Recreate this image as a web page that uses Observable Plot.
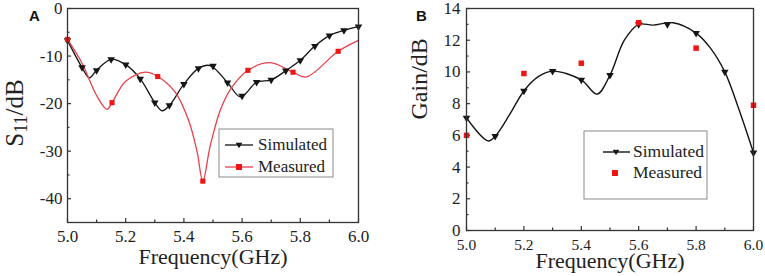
<!DOCTYPE html>
<html><head><meta charset="utf-8">
<script src="https://cdn.jsdelivr.net/npm/d3@7"></script>
<script src="https://cdn.jsdelivr.net/npm/@observablehq/plot@0.6"></script>
<style>
body{margin:0;background:#fff;}
#wrap{position:relative;width:765px;height:276px;overflow:hidden;background:#fff;}
#a{position:absolute;left:0;top:0;}
#b{position:absolute;left:385px;top:0;}
#wrap g[aria-label$="tick label"], #wrap g[aria-label$="tick label"] text{font-family:'Liberation Serif','Times New Roman',serif !important;}
</style></head><body><div id="wrap"><div id="a"></div><div id="b"></div></div>
<script>
// ---------- Panel A: S11 ----------
const simFreqA = [5.00,5.05,5.10,5.15,5.20,5.25,5.30,5.35,5.40,5.45,5.50,5.55,5.60,5.65,5.70,5.75,5.80,5.85,5.90,5.95,6.00];
const simS11   = [-6.7,-12.4,-13.0,-10.7,-11.8,-14.8,-19.8,-20.4,-15.9,-12.6,-12.1,-15.6,-18.4,-15.5,-15.0,-13.1,-10.9,-7.9,-5.7,-4.6,-3.8];
// simulated curve (markers plus read-off extrema)
const simCurveFreqA = [5.00,5.05,5.075,5.10,5.15,5.20,5.25,5.30,5.325,5.35,5.40,5.45,5.49,5.55,5.595,5.65,5.70,5.75,5.80,5.85,5.90,5.95,6.00];
const simCurveS11   = [-6.7,-12.4,-14.6,-13.0,-10.7,-11.8,-14.8,-19.8,-21.5,-20.4,-15.9,-12.6,-12.0,-15.6,-18.6,-15.5,-15.0,-13.1,-10.9,-7.9,-5.7,-4.6,-3.8];
const measFreqA = [5.00,5.153,5.31,5.465,5.62,5.775,5.93];
const measS11   = [-6.5,-19.8,-14.3,-36.3,-13.0,-13.4,-9.0];
const measCurveFreqA = [5.00,5.05,5.10,5.136,5.153,5.20,5.267,5.31,5.37,5.416,5.445,5.465,5.49,5.525,5.56,5.62,5.696,5.775,5.82,5.93,6.00];
const measCurveS11   = [-6.5,-11.5,-18.3,-21.2,-19.8,-15.3,-13.4,-14.3,-17.6,-23.5,-30.0,-36.3,-29.0,-21.4,-17.0,-13.0,-11.4,-13.4,-14.4,-9.0,-6.7];
const xMajor = [5.0,5.2,5.4,5.6,5.8,6.0];
const xMinor = [5.1,5.3,5.5,5.7,5.9];
const yMajorA = [0,-10,-20,-30,-40];
const yMinorA = [-5,-15,-25,-35];

// ---------- Panel B: Gain ----------
const simFreqB = [5.0,5.1,5.2,5.3,5.4,5.5,5.6,5.7,5.8,5.9,6.0];
const simGain  = [7.1,5.95,8.8,10.05,9.5,9.8,13.0,13.0,12.45,10.0,4.9];
const simCurveFreqB = [5.0,5.075,5.1,5.15,5.2,5.25,5.3,5.4,5.455,5.5,5.55,5.6,5.65,5.72,5.8,5.85,5.9,5.95,6.0];
const simCurveGain  = [7.1,5.65,5.95,7.3,8.8,9.7,10.05,9.5,8.6,9.8,12.0,13.0,12.95,13.1,12.45,11.5,10.0,7.6,4.9];
const measFreqB = [5.0,5.2,5.4,5.6,5.8,6.0];
const measGain  = [6.0,9.9,10.55,13.1,11.5,7.9];
const yMajorB = [0,2,4,6,8,10,12,14];
const yMinorB = [1,3,5,7,9,11,13];

const zipXY = (xs, ys) => xs.map((x, i) => ({x, y: ys[i]}));
const FONT = "'Liberation Serif','Times New Roman',serif";
const AXIS = "#333";
const BLACK = "#151515";
const REDLINE = "#e8404c";
const REDPT = "#f01414";

function panel(o) {
  const fw = o.width - o.ml - o.mr, fh = o.height - o.mt - o.mb;
  return Plot.plot({
    width: o.width, height: o.height,
    marginLeft: o.ml, marginRight: o.mr, marginTop: o.mt, marginBottom: o.mb,
    x: {domain: [5, 6]}, y: {domain: o.ydomain},
    style: {fontFamily: FONT, background: "white", color: "#222", overflow: "visible"},
    marks: [
      Plot.tickX(xMajor, {x: d => d, insetTop: fh - 4, stroke: AXIS, strokeWidth: 1.2}),
      Plot.tickX(xMinor, {x: d => d, insetTop: fh - 2.5, stroke: AXIS, strokeWidth: 1.2}),
      Plot.tickY(o.yMajor, {y: d => d, insetRight: fw - 4, stroke: AXIS, strokeWidth: 1.2}),
      Plot.tickY(o.yMinor, {y: d => d, insetRight: fw - 2.5, stroke: AXIS, strokeWidth: 1.2}),
      Plot.axisX({ticks: xMajor, tickSize: 0, tickPadding: o.xPad, tickFormat: d3.format(".1f"), fontSize: o.xTickFont, fontFamily: FONT, label: null, fill: "#222"}),
      Plot.axisY({ticks: o.yMajor, tickSize: 0, tickPadding: o.yPad, tickFormat: d => String(d), fontSize: o.yTickFont, fontFamily: FONT, label: null, fill: "#222"}),
      ...o.marks,
      Plot.frame({stroke: AXIS, strokeWidth: 1.3}),
      Plot.text(["Frequency(GHz)"], {frameAnchor: "bottom", lineAnchor: "middle", dy: o.xLabelDy, fontSize: 22, fontFamily: FONT, fill: "#222"}),
      ...(o.extra || [])
    ]
  });
}

const svgA = panel({
  width: 380, height: 276, ml: 67, mr: 22, mt: 8, mb: 54,
  ydomain: [-45, 0], yMajor: yMajorA, yMinor: yMinorA,
  xPad: 7, yPad: 5, xTickFont: 17, yTickFont: 17, xLabelDy: 34,
  marks: [
    Plot.line(zipXY(simCurveFreqA, simCurveS11), {x: "x", y: "y", curve: "catmull-rom", stroke: BLACK, strokeWidth: 1.3}),
    Plot.line(zipXY(measCurveFreqA, measCurveS11), {x: "x", y: "y", curve: "catmull-rom", stroke: REDLINE, strokeWidth: 1.3}),
    Plot.dot(zipXY(simFreqA, simS11), {x: "x", y: "y", symbol: "triangle", rotate: 180, r: 2.8, fill: BLACK}),
    Plot.dot(zipXY(measFreqA, measS11), {x: "x", y: "y", symbol: "square", r: 2.9, fill: REDPT})
  ]
});

const svgB = panel({
  width: 380, height: 276, ml: 81, mr: 12, mt: 8, mb: 46,
  ydomain: [0, 14], yMajor: yMajorB, yMinor: yMinorB,
  xPad: 8, yPad: 6, xTickFont: 15.5, yTickFont: 17, xLabelDy: 30,
  marks: [
    Plot.line(zipXY(simCurveFreqB, simCurveGain), {x: "x", y: "y", curve: "catmull-rom", stroke: BLACK, strokeWidth: 1.4}),
    Plot.dot(zipXY(simFreqB, simGain), {x: "x", y: "y", symbol: "triangle", rotate: 180, r: 2.8, fill: BLACK}),
    Plot.dot(zipXY(measFreqB, measGain), {x: "x", y: "y", symbol: "square", r: 3.1, fill: REDPT})
  ],
  extra: [
    Plot.text(["Gain/dB"], {frameAnchor: "left", rotate: -90, dx: -47, fontSize: 24, fontFamily: FONT, fill: "#222"})
  ]
});

document.getElementById("a").appendChild(svgA);
document.getElementById("b").appendChild(svgB);

const tri = "M-3.3,-2.2L3.3,-2.2L0,3.2Z";
const txt = (g, x, y, size, s) => g.append("text").attr("x", x).attr("y", y)
  .attr("text-anchor", "start").attr("font-family", FONT).attr("font-size", size).attr("fill", "#222").text(s);

// Panel A extras: y label with subscript, panel letter, legend
{
  const s = d3.select(svgA);
  const t = s.append("text").attr("transform", "translate(23,113) rotate(-90)")
    .attr("text-anchor", "middle").attr("font-family", FONT).attr("font-size", 25).attr("fill", "#222");
  t.append("tspan").text("S");
  t.append("tspan").attr("font-size", 18).attr("dy", 4).text("11");
  t.append("tspan").attr("dy", -4).text("/dB");
  s.append("text").attr("x", 29).attr("y", 21).attr("text-anchor", "start").attr("font-family", "'Liberation Sans',Arial,sans-serif")
    .attr("font-weight", "bold").attr("font-size", 15).attr("fill", "#111").text("A");
  const g = s.append("g");
  g.append("rect").attr("x", 219).attr("y", 129).attr("width", 114).attr("height", 48)
    .attr("fill", "white").attr("stroke", "#8a8a8a").attr("stroke-width", 1);
  g.append("line").attr("x1", 225).attr("x2", 253).attr("y1", 145).attr("y2", 145).attr("stroke", BLACK).attr("stroke-width", 1.3);
  g.append("path").attr("d", tri).attr("transform", "translate(239,145)").attr("fill", BLACK);
  txt(g, 258, 150, 17, "Simulated");
  g.append("line").attr("x1", 225).attr("x2", 253).attr("y1", 167).attr("y2", 167).attr("stroke", REDLINE).attr("stroke-width", 1.3);
  g.append("rect").attr("x", 236).attr("y", 164).attr("width", 6).attr("height", 6).attr("fill", REDPT);
  txt(g, 258, 172, 17, "Measured");
}
// Panel B extras: panel letter, legend
{
  const s = d3.select(svgB);
  s.append("text").attr("x", 31).attr("y", 21).attr("text-anchor", "start").attr("font-family", "'Liberation Sans',Arial,sans-serif")
    .attr("font-weight", "bold").attr("font-size", 15).attr("fill", "#111").text("B");
  const g = s.append("g");
  g.append("rect").attr("x", 199).attr("y", 131).attr("width", 123).attr("height", 68)
    .attr("fill", "white").attr("stroke", "#8a8a8a").attr("stroke-width", 1);
  g.append("line").attr("x1", 218).attr("x2", 245).attr("y1", 152).attr("y2", 152).attr("stroke", BLACK).attr("stroke-width", 1.4);
  g.append("path").attr("d", tri).attr("transform", "translate(231,152)").attr("fill", BLACK);
  txt(g, 248, 157, 17.5, "Simulated");
  g.append("rect").attr("x", 227).attr("y", 170).attr("width", 6).attr("height", 6).attr("fill", REDPT);
  txt(g, 248, 178, 17.5, "Measured");
}
</script></body></html>
